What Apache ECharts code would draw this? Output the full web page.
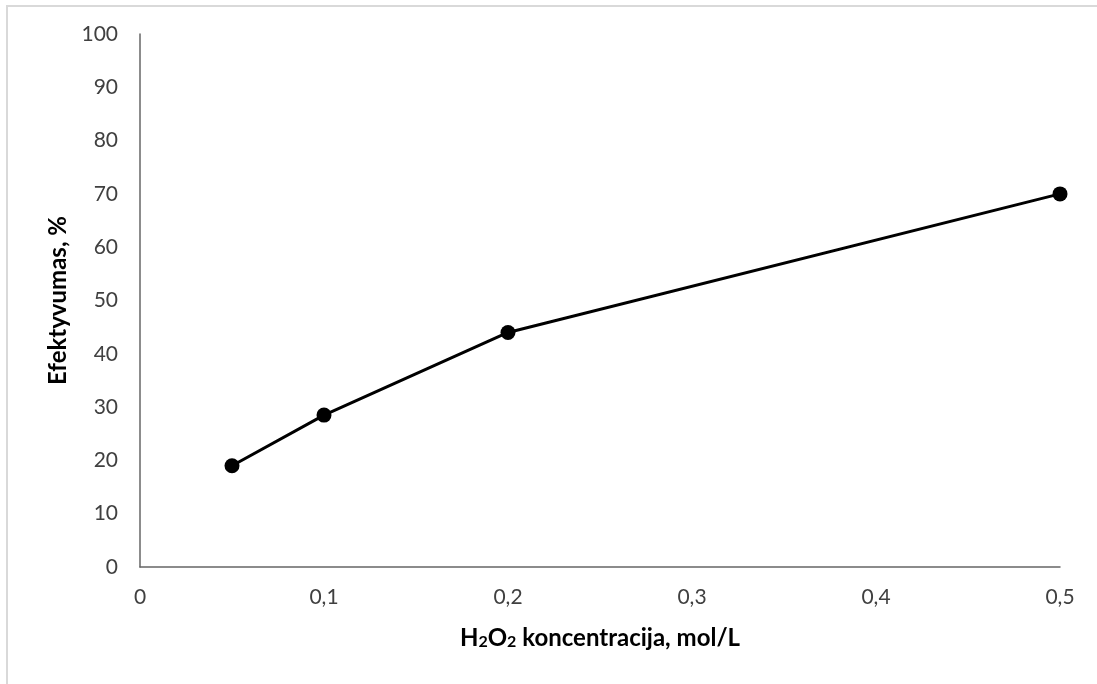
<!DOCTYPE html>
<html>
<head>
<meta charset="utf-8">
<script src="https://cdn.jsdelivr.net/npm/echarts@6/dist/echarts.min.js"></script>
<style>
html,body{margin:0;padding:0;background:#fff;}
#c{width:1097px;height:684px;}
</style>
</head>
<body>
<div id="c"></div>
<script>
const concentrations = [0.05, 0.1, 0.2, 0.5];
const efficiency = [19, 28.5, 44, 70];
const xAxisTitle = 'H2O2 koncentracija, mol/L';
const yAxisTitle = 'Efektyvumas, %';

const chart = echarts.init(document.getElementById('c'), null, {renderer: 'canvas'});
const fontFamily = 'Lato, "Liberation Sans", sans-serif';
const points = concentrations.map((x, i) => [x, efficiency[i]]);

chart.setOption({
  animation: false,
  backgroundColor: '#fff',
  graphic: [{
    type: 'rect',
    shape: {x: 7, y: 6, width: 1200, height: 1000},
    style: {fill: 'none', stroke: '#d9d9d9', lineWidth: 2},
    silent: true
  }],
  grid: {left: 140, right: 37, top: 34, bottom: 117, containLabel: false},
  xAxis: {
    type: 'value',
    min: 0, max: 0.5, interval: 0.1,
    name: '{a|H}{s|2}{a|O}{s|2}{a| koncentracija, mol/L}',
    nameLocation: 'middle',
    nameGap: 56,
    nameTextStyle: {
      rich: {
        a: {fontFamily, fontSize: 24, fontWeight: 'bold', color: '#000', lineHeight: 27, verticalAlign: 'bottom'},
        s: {fontFamily, fontSize: 16, fontWeight: 'bold', color: '#000', lineHeight: 12, verticalAlign: 'bottom'}
      }
    },
    axisLine: {show: true, lineStyle: {color: '#666', width: 1.5}},
    axisTick: {show: false},
    splitLine: {show: false},
    axisLabel: {
      margin: 20, fontFamily, fontSize: 21, color: '#404040',
      formatter: v => String(Math.round(v * 10) / 10).replace('.', ',')
    }
  },
  yAxis: {
    type: 'value',
    min: 0, max: 100, interval: 10,
    name: yAxisTitle,
    nameLocation: 'middle',
    nameGap: 70,
    nameRotate: 90,
    nameTextStyle: {fontFamily, fontSize: 24, fontWeight: 'bold', color: '#000'},
    axisLine: {show: true, lineStyle: {color: '#666', width: 1.5}},
    axisTick: {show: false},
    splitLine: {show: false},
    axisLabel: {margin: 22, fontFamily, fontSize: 21, color: '#404040'}
  },
  series: [{
    type: 'line',
    data: points,
    symbol: 'circle',
    symbolSize: 15,
    lineStyle: {color: '#000', width: 3},
    itemStyle: {color: '#000'},
    z: 5
  }]
});
</script>
</body>
</html>
